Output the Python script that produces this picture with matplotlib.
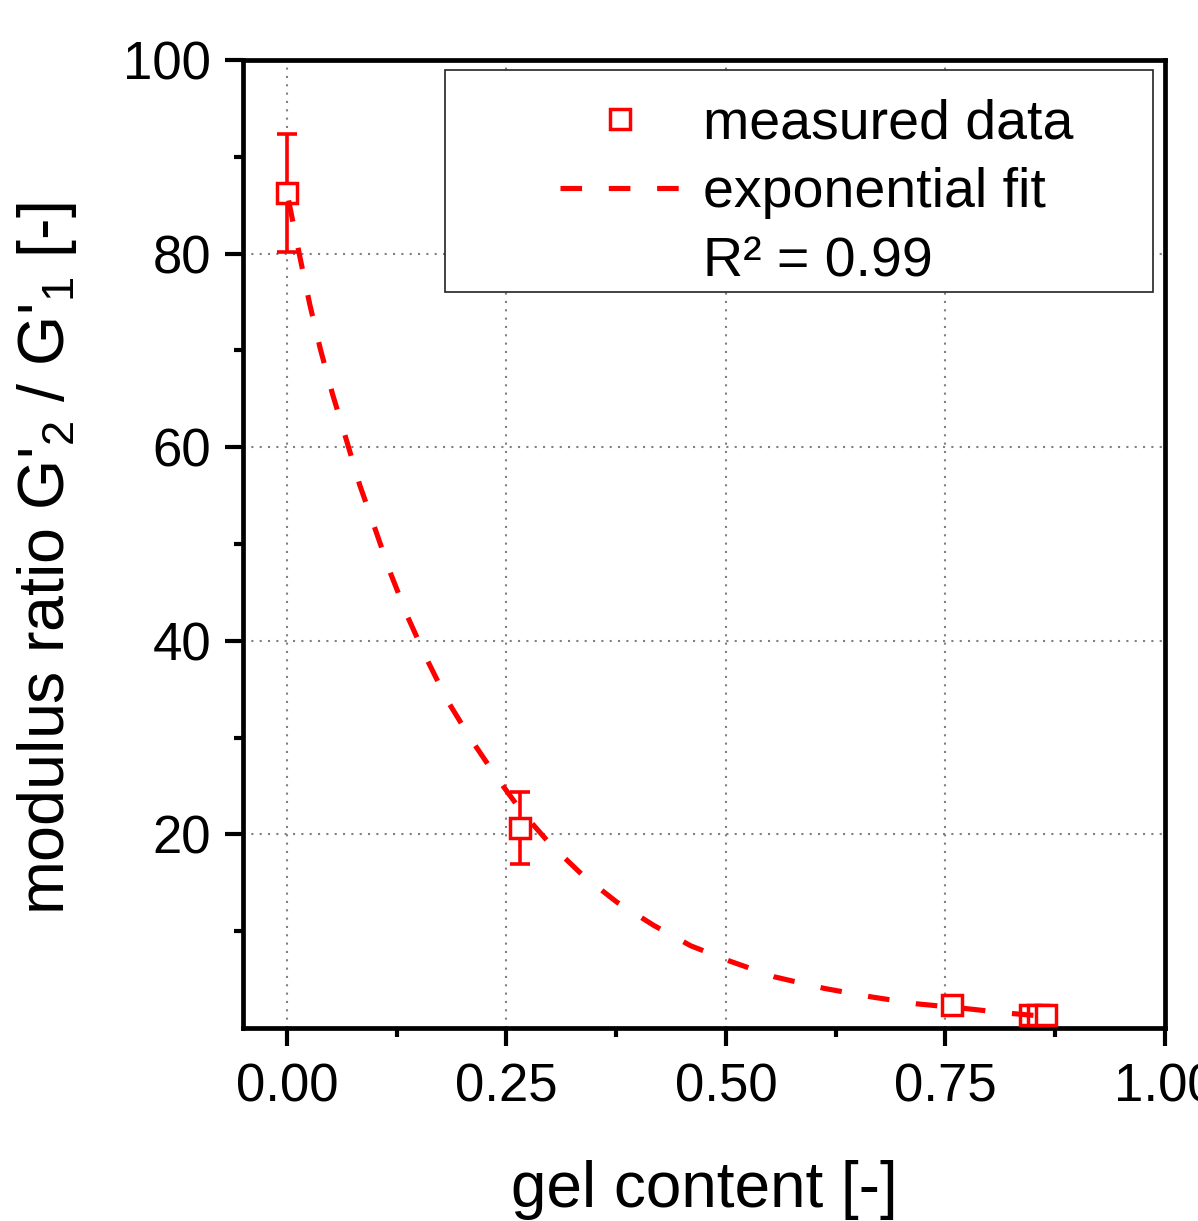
import matplotlib
matplotlib.use('Agg')
import matplotlib.pyplot as plt
from matplotlib.patches import Rectangle
from matplotlib.ticker import FixedLocator

plt.rcParams['font.family'] = ['Liberation Sans', 'DejaVu Sans']
plt.rcParams['mathtext.default'] = 'regular'

# measured data
gel_content = [0.0, 0.265, 0.757, 0.846, 0.855, 0.864]
modulus_ratio = [86.3, 20.7, 2.4, 1.4, 1.4, 1.4]
ratio_error = [6.1, 3.7, 0.0, 0.0, 0.0, 0.0]

# exponential fit curve
fit_x = [0.002, 0.015, 0.026, 0.038, 0.052, 0.068, 0.083, 0.100, 0.118, 0.138,
         0.160, 0.183, 0.210, 0.239, 0.268, 0.300, 0.338, 0.376, 0.418, 0.460,
         0.505, 0.555, 0.612, 0.667, 0.718, 0.770, 0.820, 0.865]
fit_y = [85.5, 79.6, 74.8, 70.2, 65.5, 60.7, 56.1, 51.7, 47.0, 42.4,
         38.0, 33.8, 29.8, 25.9, 22.3, 19.0, 15.7, 13.0, 10.6, 8.5,
         6.9, 5.3, 4.1, 3.2, 2.5, 2.05, 1.55, 1.2]

x_ticks = [0.0, 0.25, 0.5, 0.75, 1.0]
x_ticklabels = ['0.00', '0.25', '0.50', '0.75', '1.00']
x_minor = [0.125, 0.375, 0.625, 0.875]
y_ticks = [20, 40, 60, 80, 100]
y_minor = [10, 30, 50, 70, 90]

fig = plt.figure(figsize=(11.98, 12.21), dpi=100)
ax = fig.add_axes([0.2028, 0.158, 0.7696, 0.7928])

ax.errorbar(gel_content, modulus_ratio, yerr=ratio_error, fmt='none',
            ecolor='#ff0000', elinewidth=2.6, capsize=7, capthick=2.6, zorder=3)
ax.plot(gel_content, modulus_ratio, 's', ms=14.5, mfc='white', mec='#ff0000',
        mew=2.5, label='measured data', zorder=4, clip_on=False)
ax.plot(fit_x, fit_y, color='#ff0000', lw=3.7, dashes=(4.2, 5.2),
        label='exponential fit', zorder=5)
ax.plot([], [], ' ', label='R² = 0.99')

ax.set_xlim(-0.05, 1.0)
ax.set_ylim(0, 100)
ax.xaxis.set_major_locator(FixedLocator(x_ticks))
ax.set_xticklabels(x_ticklabels)
ax.xaxis.set_minor_locator(FixedLocator(x_minor))
ax.yaxis.set_major_locator(FixedLocator(y_ticks))
ax.yaxis.set_minor_locator(FixedLocator(y_minor))

ax.grid(True, which='major', color='#808080', linestyle=(0, (1, 3)), linewidth=1.5, zorder=0)
ax.set_axisbelow(True)

for s in ax.spines.values():
    s.set_linewidth(3.4)
    s.set_color('black')

ax.tick_params(which='major', direction='out', length=13, width=3, labelsize=38)
ax.tick_params(axis='x', which='major', pad=12)
ax.tick_params(axis='y', which='major', pad=10)
ax.tick_params(which='minor', direction='out', length=6.5, width=3)

ax.set_xlabel('gel content [-]', fontsize=46, labelpad=34)
ax.set_ylabel("modulus ratio G'$_{2}$ / G'$_{1}$ [-]", fontsize=46.5)
ax.yaxis.set_label_coords(-0.178, 0.4845)

# legend frame
frame = Rectangle((0.219, 0.760), 0.768, 0.2297, transform=ax.transAxes,
                  facecolor='white', edgecolor='#222222', linewidth=1.2, zorder=6)
ax.add_patch(frame)
leg = ax.legend(loc='upper left', bbox_to_anchor=(0.344, 0.96), frameon=False,
                fontsize=40, handlelength=2.16, handletextpad=0.41,
                borderpad=0, borderaxespad=0, labelspacing=0.3)
leg.set_zorder(7)

fig.savefig('out.png', dpi=100)
